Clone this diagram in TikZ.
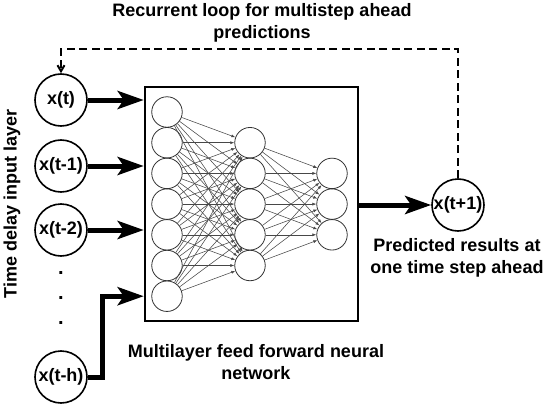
\documentclass[tikz,border=0pt]{standalone}
\usepackage{fontspec}
\setmainfont{Liberation Sans}
\usetikzlibrary{positioning, arrows.meta, calc}

\begin{document}
\begin{tikzpicture}[x=1pt, y=-1pt, every node/.style={font=\fontsize{18}{21.5}\selectfont\bfseries},
    lag/.style={draw, circle, line width=1.6pt, minimum size=52pt, inner sep=0pt},
    neuron/.style={draw=black!80, circle, line width=0.8pt, minimum size=30.5pt, inner sep=0pt},
    conn/.style={-{Latex[length=4pt, width=3pt]}, black!72, line width=0.55pt},
    feed/.style={-{Stealth[length=26pt, width=18pt, inset=6pt]}, line width=5pt}]
        \useasboundingbox (0,0) rectangle (550,407);
        % network box and neurons
        \node[draw, line width=2.5pt, minimum width=213pt, minimum height=234pt, inner sep=0pt] (net) at (251.5,204) {};
        \foreach \i in {1,...,7}
          \node[neuron] (in\i) at (167,{112+30.7*(\i-1)}) {};
        \foreach \j in {1,...,5}
          \node[neuron] (hid\j) at (250,{142.7+30.7*(\j-1)}) {};
        \foreach \k in {1,...,3}
          \node[neuron] (out\k) at (332,{173.4+30.7*(\k-1)}) {};
        \foreach \i in {1,...,7}
          \foreach \j in {1,...,5}
            \draw[conn] (in\i) -- (hid\j);
        \foreach \j in {1,...,5}
          \foreach \k in {1,...,3}
            \draw[conn] (hid\j) -- (out\k);
        % time delay inputs
        \node[lag] (xt) at (61,100) {x(t)};
        \node[lag] (xtm1) at (61,166) {x(t-1)};
        \node[lag] (xtm2) at (61,230) {x(t-2)};
        \node[align=center, font=\fontsize{20}{25}\selectfont\bfseries] (dots) at (61,298) {.\\.\\.};
        \node[lag] (xth) at (61,377) {x(t-h)};
        \node[lag] (xnext) at (458,205) {x(t+1)};
        % labels
        \node[align=center] (loop) at (262,23) {Recurrent loop for multistep ahead\\predictions};
        \node[rotate=90] (delay) at (12,204) {Time delay input layer};
        \node[align=center] (mlp) at (256,362) {Multilayer feed forward neural\\network};
        \node[align=center] (pred) at (457,258) {Predicted results at\\one time step ahead};
        % connectors
        \draw[feed] (xt) -- (xt -| net.west);
        \draw[feed] (xtm1) -- (xtm1 -| net.west);
        \draw[feed] (xtm2) -- (xtm2 -| net.west);
        \draw[feed] (xth.east) -- ++(15,0) |- (in7 -| net.west);
        \draw[feed] (net.east |- xnext) -- (xnext);
        \coordinate (looptop) at (0,49);
        \draw[dash pattern=on 8pt off 4.5pt, line width=2pt, -{Straight Barb[length=6pt, width=7pt]}] (xnext.north) -- (xnext.north |- looptop) -| (xt.north);
      \end{tikzpicture}
\end{document}
